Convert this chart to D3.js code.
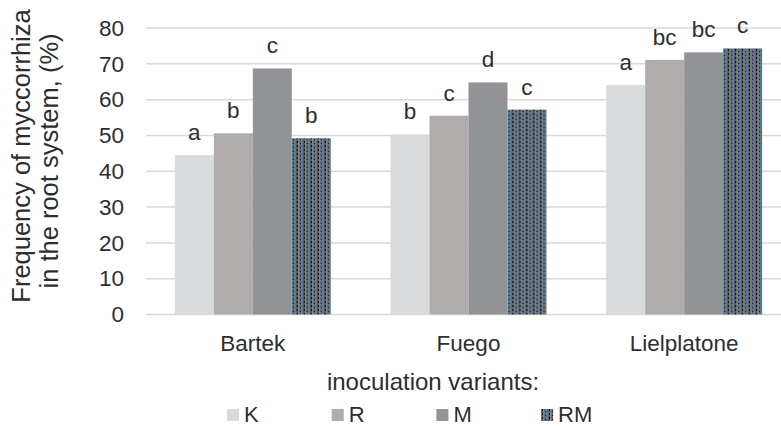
<!DOCTYPE html>
<html>
<head>
<meta charset="utf-8">
<script src="https://cdn.jsdelivr.net/npm/d3@7"></script>
<style>
  html, body { margin: 0; padding: 0; background: #fff; }
  svg { display: block; font-family: "Liberation Sans", Arial, sans-serif; }
</style>
</head>
<body>
<svg id="chart" width="781" height="426"></svg>
<script>
// ---- data ----
const categories = ["Bartek", "Fuego", "Lielplatone"];
const seriesNames = ["K", "R", "M", "RM"];
const valuesK  = [44.5, 50.3, 64.1];
const valuesR  = [50.6, 55.5, 71.1];
const valuesM  = [68.7, 64.8, 73.2];
const valuesRM = [49.2, 57.2, 74.3];
const lettersK  = ["a", "b", "a"];
const lettersR  = ["b", "c", "bc"];
const lettersM  = ["c", "d", "bc"];
const lettersRM = ["b", "c", "c"];
const yTicks = [0, 10, 20, 30, 40, 50, 60, 70, 80];
const yTitle = ["Frequency of myccorrhiza", "in the root system, (%)"];
const xTitle = "inoculation variants:";

const seriesValues = [valuesK, valuesR, valuesM, valuesRM];
const seriesLetters = [lettersK, lettersR, lettersM, lettersRM];
const colors = ["#d9dadc", "#b0acab", "#929396", "url(#rmPattern)"];

const svg = d3.select("#chart");
const textColor = "#2e2e2e";
const fs = 22.5;

// pattern for RM (multicolour vertical stripes with black dashes)
const defs = svg.append("defs");
const pw = 7, ph = 4;
const pat = defs.append("pattern").attr("id", "rmPattern")
  .attr("patternUnits", "userSpaceOnUse").attr("width", pw).attr("height", ph);
const stripeCols = ["#6a7f72", "#3a8f86", "#7c3f9a", "#5a5a6a", "#9a8650", "#3a8a8f", "#7a4a9a"];
stripeCols.forEach((c, i) => pat.append("rect").attr("x", i).attr("y", 0).attr("width", 1).attr("height", ph).attr("fill", c));
pat.append("rect").attr("x", 3).attr("y", 1).attr("width", 1).attr("height", 2).attr("fill", "#000");
pat.append("rect").attr("x", 6).attr("y", 3).attr("width", 1).attr("height", 1).attr("fill", "#111");

// scales
const x0 = d3.scaleBand().domain(categories).range([145, 792]).paddingInner(0.277).paddingOuter(0.1385);
const x1 = d3.scaleBand().domain(seriesNames).range([0, x0.bandwidth()]);
const y = d3.scaleLinear().domain([0, 80]).range([314.5, 28]);

// gridlines
svg.append("g").selectAll("line").data(yTicks).join("line")
  .attr("x1", 146).attr("x2", 781)
  .attr("y1", d => y(d)).attr("y2", d => y(d))
  .attr("stroke", "#d9d9d9").attr("stroke-width", 1.5);

// y axis labels
const yAxis = d3.axisLeft(y).tickValues(yTicks).tickSize(0).tickPadding(0);
const gy = svg.append("g").attr("transform", "translate(124,0)").call(yAxis);
gy.select(".domain").remove();
gy.selectAll("text").attr("font-size", fs).attr("fill", textColor)
  .attr("font-family", "Liberation Sans, Arial, sans-serif");

// bars
const groups = svg.append("g").selectAll("g").data(categories).join("g")
  .attr("transform", d => `translate(${x0(d)},0)`);
groups.each(function(cat, ci) {
  const g = d3.select(this);
  seriesNames.forEach((s, si) => {
    const v = seriesValues[si][ci];
    g.append("rect")
      .attr("x", x1(s)).attr("width", x1.bandwidth())
      .attr("y", y(v)).attr("height", y(0) - y(v))
      .attr("fill", colors[si]);
    g.append("text")
      .attr("x", x1(s) + x1.bandwidth() / 2)
      .attr("y", y(v) - 15)
      .attr("text-anchor", "middle")
      .attr("font-size", fs).attr("fill", textColor)
      .text(seriesLetters[si][ci]);
  });
});

// category labels
const xAxis = d3.axisBottom(x0).tickSize(0).tickPadding(0);
const gx = svg.append("g").attr("transform", "translate(0,335)").call(xAxis);
gx.select(".domain").remove();
gx.selectAll("text").attr("font-size", fs).attr("fill", textColor)
  .attr("font-family", "Liberation Sans, Arial, sans-serif");

// axis titles
svg.append("text").attr("x", 433).attr("y", 390).attr("text-anchor", "middle")
  .attr("font-size", 24).attr("fill", textColor).text(xTitle);
yTitle.forEach((t, i) => {
  svg.append("text")
    .attr("transform", `translate(${30 + i * 27.5},${156 + i * 5}) rotate(-90)`)
    .attr("text-anchor", "middle")
    .attr("font-size", 25.5).attr("fill", textColor).text(t);
});

// legend
const legend = svg.append("g");
seriesNames.forEach((s, i) => {
  const lx = 227 + i * 104.7;
  legend.append("rect").attr("x", lx).attr("y", 409).attr("width", 12).attr("height", 12)
    .attr("fill", colors[i]);
  legend.append("text").attr("x", lx + 17).attr("y", 422)
    .attr("font-size", 22).attr("fill", textColor).text(s);
});
</script>
</body>
</html>
